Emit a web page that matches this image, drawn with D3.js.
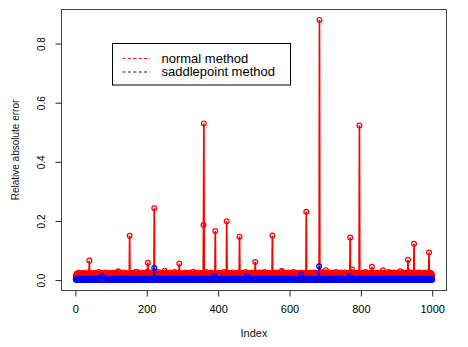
<!DOCTYPE html>
<html><head><meta charset="utf-8">
<script src="https://cdn.jsdelivr.net/npm/d3@7"></script>
<style>body{margin:0;background:#fff}svg{display:block}text{font-family:"Liberation Sans",Arial,sans-serif}</style>
</head><body><svg id="c" width="468" height="347"></svg>
<script>
// Relative absolute error (x1000) of the normal method, index 1..1000
const normalBase = [
14,9,18,22,11,7,16,20,13,25,8,17,12,19,23,10,15,21,6,18,14,24,11,9,20,16,13,22,8,19,12,17,26,10,15,21,7,14,19,11,23,16,9,20,13,18,24,10,15,12,
21,8,17,14,25,11,19,6,16,22,13,9,20,15,27,10,18,12,23,7,16,21,14,11,19,24,9,17,13,22,15,8,20,18,26,12,10,23,16,14,19,7,21,13,17,24,11,15,20,9,
18,12,23,16,10,21,14,25,8,19,13,17,22,11,15,20,9,24,16,12,18,27,10,14,21,13,19,7,23,15,11,17,20,14,26,9,16,22,12,18,10,24,15,13,21,8,19,16,23,11,
13,20,9,17,24,15,11,22,18,7,16,25,12,19,14,21,10,23,17,13,28,9,15,20,12,18,24,11,16,22,14,8,19,26,13,17,21,10,15,23,12,18,9,20,16,14,25,11,22,17,
15,10,19,23,12,17,8,21,14,26,11,18,13,24,16,9,20,15,22,12,19,7,17,25,13,21,10,16,23,14,18,11,27,15,20,9,13,22,17,12,24,16,10,19,14,21,8,18,25,13,
19,14,22,10,17,25,12,20,15,9,23,16,11,18,26,13,21,8,17,24,14,19,10,22,15,12,20,27,11,16,23,9,18,14,21,13,25,17,10,19,15,22,12,24,16,8,20,14,18,11,
16,23,12,19,9,21,15,26,13,18,10,24,17,11,20,14,22,8,25,16,12,19,15,23,10,18,13,21,17,28,11,14,20,9,24,16,12,22,18,15,10,19,26,13,17,21,11,23,14,20,
12,18,24,15,10,21,17,13,25,9,19,14,22,11,16,27,12,20,15,8,23,18,13,21,10,17,24,14,19,11,26,16,12,22,15,9,20,18,13,25,17,10,21,14,23,12,19,16,8,22,
20,13,17,25,11,19,14,22,9,16,24,12,18,15,21,10,27,13,19,16,23,8,17,14,20,12,25,18,11,22,15,19,9,24,13,17,21,10,16,26,14,20,12,18,23,11,15,22,17,13,
17,22,11,19,14,26,10,21,16,13,24,9,18,20,12,23,15,11,25,17,14,19,8,22,16,12,27,13,20,18,10,24,15,21,11,17,23,14,19,9,22,16,12,25,18,13,20,10,24,15,
11,19,24,14,17,9,22,16,25,12,20,13,18,23,10,21,15,26,12,17,14,22,19,8,24,16,11,20,13,27,15,18,10,23,16,12,21,14,25,9,19,17,22,11,15,24,13,20,16,18,
23,15,10,20,17,13,25,11,19,22,14,8,18,26,12,16,21,15,24,10,19,13,22,17,11,20,28,14,16,9,23,18,12,21,15,25,13,17,10,22,19,14,24,11,18,16,20,12,26,15,
14,21,17,12,24,10,19,15,22,13,27,16,9,20,18,11,23,14,25,12,17,21,10,19,15,24,13,18,22,8,16,26,11,20,14,23,17,12,21,15,10,25,18,13,19,22,16,11,24,14,
18,11,22,16,13,25,19,10,21,14,17,24,12,20,15,9,23,18,26,13,16,11,22,19,14,25,10,17,21,13,18,24,12,15,20,8,23,16,27,11,19,14,22,17,12,25,15,20,10,18,
25,13,16,21,10,19,23,14,17,12,26,15,20,11,18,24,9,22,16,13,21,17,25,12,19,10,23,15,18,14,27,11,20,16,22,13,17,24,10,19,15,21,12,26,14,18,23,11,16,20,
10,17,23,15,20,12,26,18,14,21,11,19,24,13,16,22,9,25,15,18,12,20,27,14,17,11,23,16,19,13,21,10,24,15,18,22,12,17,25,14,20,9,16,23,13,19,11,21,18,15,
22,16,12,19,25,14,18,10,23,15,20,13,27,17,11,21,16,24,12,19,14,22,9,18,25,13,20,15,11,23,17,26,12,16,21,14,19,10,24,18,13,22,15,20,11,17,25,14,19,12,
16,24,13,20,11,18,22,15,26,12,19,14,21,10,17,25,13,23,16,9,20,18,12,24,15,21,11,27,14,19,16,22,13,18,25,10,17,23,15,20,12,26,14,19,11,22,17,13,24,16,
13,19,25,11,22,16,14,20,12,24,18,10,23,15,21,17,13,26,11,19,16,22,14,25,12,18,20,9,24,15,17,21,13,27,16,11,23,19,14,20,12,25,18,15,22,10,17,24,13,21,
19,12,21,17,14,24,10,20,16,23,13,18,26,11,22,15,19,12,25,14,17,21,9,23,16,18,13,24,20,11,15,22,17,26,12,19,14,21,10,23,16,18,13,25,15,20,11,22,17,14
];
// Relative absolute error (x1000) of the saddlepoint method, index 1..1000
const saddleBase = [
2,1,3,0,2,4,1,2,3,1,0,2,5,1,3,2,1,4,2,0,3,1,2,4,1,3,2,0,1,5,2,3,1,2,4,0,2,1,3,2,1,4,2,3,0,1,2,5,1,3,
1,2,4,1,3,0,2,5,1,2,3,1,4,2,0,3,1,2,6,1,3,2,1,4,2,2,1,3,0,2,4,1,2,3,1,5,2,0,3,1,2,4,1,3,2,1,0,4,2,1,
3,1,2,0,4,2,1,3,5,1,2,4,0,3,1,2,1,4,2,3,1,0,5,2,1,3,2,4,1,2,0,3,1,4,2,1,3,2,6,1,2,0,3,1,4,2,1,3,2,1,
2,4,1,3,0,2,1,5,2,3,1,4,2,0,1,3,2,4,1,2,3,0,1,4,2,3,1,2,5,1,3,0,2,1,4,2,3,1,2,0,4,1,3,2,1,5,2,1,3,0,
1,3,2,4,1,0,3,2,1,5,2,3,1,4,0,2,1,3,2,4,1,2,6,1,3,0,2,4,1,2,3,1,5,2,0,3,1,2,4,1,3,2,1,0,4,2,3,1,2,5,
3,2,1,4,2,0,1,3,5,2,1,4,2,3,1,0,2,4,1,3,2,1,5,0,2,3,1,4,2,1,3,2,0,4,1,2,3,1,5,2,4,1,0,2,3,1,2,4,1,3,
2,0,3,1,4,2,1,3,2,5,1,2,0,4,3,1,2,1,4,2,3,0,1,5,2,1,3,2,4,1,0,2,3,1,4,2,1,6,3,2,1,4,0,2,1,3,2,5,1,2,
4,1,2,3,0,2,1,4,3,2,1,5,2,0,3,1,4,2,1,3,2,0,4,1,2,3,5,1,2,0,3,1,4,2,1,3,2,1,4,0,2,3,1,5,2,1,4,2,3,1,
1,3,0,2,4,1,2,3,1,5,2,0,3,1,2,4,1,3,2,1,0,4,2,3,1,2,5,1,3,0,2,1,4,2,3,1,2,0,4,1,3,2,1,5,2,3,1,0,2,4,
2,1,4,3,0,2,1,3,5,2,1,4,2,0,3,1,2,4,1,3,2,1,0,5,2,3,1,4,2,1,3,0,2,4,1,2,3,1,6,2,0,3,1,4,2,1,3,2,1,4,
3,2,0,1,4,2,3,1,2,5,1,3,2,0,4,1,2,3,1,2,4,0,3,1,2,5,1,2,3,0,2,4,1,3,2,1,0,4,2,3,1,2,5,1,3,0,2,1,4,2,
1,4,2,3,0,2,1,5,2,3,1,2,4,0,3,1,2,1,4,2,3,1,0,2,5,1,3,2,4,1,2,0,3,1,4,2,1,3,2,6,1,2,0,3,1,4,2,1,3,2,
2,3,1,0,4,2,1,3,2,1,5,2,0,3,1,4,2,1,3,2,0,1,4,2,3,1,5,2,0,3,1,2,4,1,3,2,0,1,4,2,3,1,2,5,0,2,3,1,4,1,
0,2,3,1,4,1,2,3,0,5,2,1,3,2,4,1,0,2,3,1,2,4,1,3,0,2,1,5,2,3,1,4,2,0,3,1,2,4,1,2,3,0,1,4,2,3,1,2,5,1,
3,1,4,2,0,3,1,2,4,1,2,5,1,3,0,2,1,4,2,3,1,2,0,4,1,3,2,1,5,2,3,0,2,1,4,2,3,1,0,2,4,1,3,2,1,6,2,0,3,1,
2,4,1,3,2,0,1,4,2,3,1,5,2,1,3,0,2,4,1,2,3,1,4,2,0,3,1,2,5,1,2,3,0,4,1,2,3,1,4,2,0,1,3,2,4,1,2,5,1,3,
1,2,3,0,4,2,1,3,2,5,1,0,2,4,3,1,2,1,4,2,3,1,0,2,5,1,3,2,4,1,2,0,3,1,4,2,1,3,6,2,1,4,0,2,3,1,2,4,1,3,
4,2,1,3,0,2,4,1,3,2,1,5,2,0,3,1,2,4,1,3,2,1,0,4,2,3,1,5,2,1,3,0,2,4,1,2,3,1,4,2,0,3,1,2,5,1,4,2,3,1,
2,0,3,1,4,2,1,3,2,1,5,2,3,0,1,4,2,3,1,2,4,1,0,3,2,1,5,2,3,1,2,4,0,1,3,2,1,4,2,3,1,0,2,5,1,3,2,4,1,2,
3,1,2,4,0,2,1,3,5,2,1,4,2,0,3,1,2,4,1,3,2,0,1,4,2,3,1,5,2,1,3,2,0,4,1,2,3,1,4,2,1,3,0,2,4,1,2,3,1,2
];
// Larger errors (x1000) at particular indices
const normalPeakIndex = [39,120,152,202,203,221,250,291,359,360,392,424,460,504,552,578,647,684,702,770,775,796,831,862,910,932,949,991];
const normalPeakValue = [66,30,150,28,59,243,32,56,186,530,166,199,147,61,151,31,231,880,33,144,36,523,45,33,30,69,123,93];
const saddlePeakIndex = [74,221,391,480,633,683,769];
const saddlePeakValue = [13,41,12,11,19,47,13];

const xTicks = [0,200,400,600,800,1000];
const yTicks = [0,0.2,0.4,0.6,0.8];
const legendLabels = ["normal method","saddlepoint method"];
const seriesColors = ["#ff0000","#0000ff"];

function buildSeries(base, idx, val){
  const arr = base.map((v,i)=>({i:i+1, v:v/1000}));
  idx.forEach((k,j)=>{ if(arr[k-1]) arr[k-1].v = val[j]/1000; });
  return arr;
}
const normal = buildSeries(normalBase, normalPeakIndex, normalPeakValue);
const saddle = buildSeries(saddleBase, saddlePeakIndex, saddlePeakValue);

const svg = d3.select("#c");
const L=61.5, R=446.5, T=9.5, B=290.5;
const x = d3.scaleLinear().domain([1-0.04*999, 1000+0.04*999]).range([L,R]);
const yMax = 0.88;
const y = d3.scaleLinear().domain([-0.04*yMax, yMax*1.04]).range([B,T]);

const line = d3.line().x(d=>x(d.i)).y(d=>y(d.v));
[normal, saddle].forEach((s,k)=>{
  const g = svg.append("g");
  g.append("path").attr("d", line(s)).attr("fill","none").attr("stroke",seriesColors[k]).attr("stroke-width",1.7);
  g.selectAll("circle").data(s).join("circle")
    .attr("cx",d=>x(d.i)).attr("cy",d=>y(d.v)).attr("r",2.4)
    .attr("fill","none").attr("stroke",seriesColors[k]).attr("stroke-width",1.2);
});

// box
svg.append("rect").attr("x",L).attr("y",T).attr("width",R-L).attr("height",B-T)
  .attr("fill","none").attr("stroke","#444").attr("stroke-width",1);

// x axis
const gx = svg.append("g").attr("transform",`translate(0,${B})`)
  .call(d3.axisBottom(x).tickValues(xTicks).tickSize(6).tickPadding(9).tickFormat(d3.format("d")));
gx.select(".domain").remove();
gx.selectAll("line").attr("stroke","#222");
gx.selectAll("text").attr("font-size",11).attr("fill","#000").attr("font-family",'"Liberation Sans",Arial,sans-serif');

// y axis
const gy = svg.append("g").attr("transform",`translate(${L},0)`)
  .call(d3.axisLeft(y).tickValues(yTicks).tickSize(6).tickFormat(d3.format(".1f")));
gy.select(".domain").remove();
gy.selectAll("line").attr("stroke","#222");
gy.selectAll("text").attr("font-size",10).attr("fill","#000").attr("font-family",'"Liberation Sans",Arial,sans-serif')
  .attr("transform","rotate(-90)").attr("x",0).attr("y",-16.5).attr("dy",0).attr("text-anchor","middle");

// axis titles
svg.append("text").attr("x",(L+R)/2).attr("y",336.5).attr("text-anchor","middle")
  .attr("font-size",11).attr("fill","#111").text("Index");
svg.append("text").attr("transform",`translate(19.3,${(T+B)/2}) rotate(-90)`).attr("text-anchor","middle")
  .attr("font-size",10).attr("fill","#111").text("Relative absolute error");

// legend
const lg = svg.append("g");
lg.append("rect").attr("x",112.5).attr("y",43.5).attr("width",178).attr("height",41.5)
  .attr("fill","#fff").attr("stroke","#000").attr("stroke-width",1);
legendLabels.forEach((t,k)=>{
  const yy = 58.5 + k*13.5;
  lg.append("line").attr("x1",122.5).attr("x2",150).attr("y1",yy).attr("y2",yy)
    .attr("stroke",seriesColors[k]).attr("stroke-width",1).attr("stroke-dasharray","3,2.4");
  lg.append("text").attr("x",161.5).attr("y",yy+4.3).attr("font-size",13).attr("fill","#000").text(t);
});
</script></body></html>
